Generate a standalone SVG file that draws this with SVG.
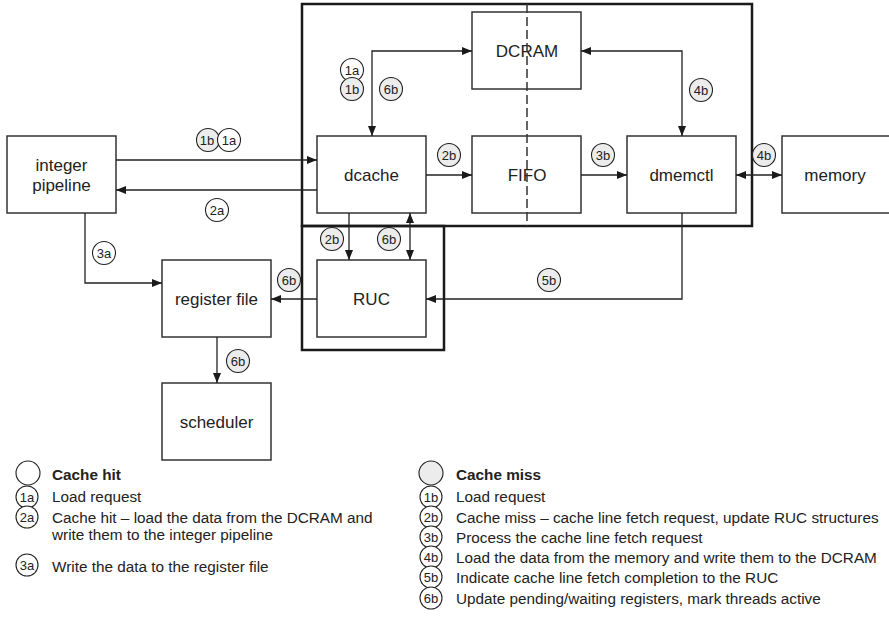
<svg xmlns="http://www.w3.org/2000/svg" width="889" height="625" viewBox="0 0 889 625">
<defs>
<marker id="ah" viewBox="0 0 10 8" refX="10" refY="4" markerWidth="10" markerHeight="8" markerUnits="userSpaceOnUse" orient="auto-start-reverse">
<path d="M0,0 L10,4 L0,8 z" fill="#1a1a1a"/>
</marker>
<style>
.box{fill:#fff;stroke:#333;stroke-width:1.5}
.cont{fill:none;stroke:#1a1a1a;stroke-width:2.5}
.lbl{font-family:"Liberation Sans",Arial,sans-serif;font-size:17px;fill:#222;text-anchor:middle}
.con{fill:none;stroke:#222;stroke-width:1.3}
.cw{fill:#fff;stroke:#222;stroke-width:1.1}
.cg{fill:#ececec;stroke:#222;stroke-width:1.1}
.ct{font-family:"Liberation Sans",Arial,sans-serif;font-size:13px;fill:#222;text-anchor:middle}
.lt{font-family:"Liberation Sans",Arial,sans-serif;font-size:15.3px;fill:#222}
.lb{font-family:"Liberation Sans",Arial,sans-serif;font-size:15.3px;fill:#222;font-weight:bold}
.dash{stroke:#333;stroke-width:1.5;stroke-dasharray:9,4;fill:none}
</style>
</defs>
<rect width="889" height="625" fill="#fff"/>

<g id="containers">
<rect class="cont" x="302" y="4" width="450" height="222"/>
<rect class="cont" x="302" y="226" width="142" height="124"/>
</g>

<g id="dcram"><rect class="box" x="472" y="12" width="109" height="77"/><text class="lbl" x="527" y="56.5">DCRAM</text></g>
<g id="dcache"><rect class="box" x="317" y="136" width="109" height="77"/><text class="lbl" x="371.5" y="180.5">dcache</text></g>
<g id="fifo"><rect class="box" x="472" y="136" width="109" height="77"/><text class="lbl" x="527" y="180.5">FIFO</text></g>
<g id="dmemctl"><rect class="box" x="627" y="136" width="109" height="77"/><text class="lbl" x="681.5" y="180.5">dmemctl</text></g>
<g id="memory"><rect class="box" x="782" y="136" width="112" height="77"/><text class="lbl" x="835" y="180.5">memory</text></g>
<g id="integer-pipeline"><rect class="box" x="7" y="136" width="109" height="77"/><text class="lbl" x="61.5" y="170.5">integer</text><text class="lbl" x="61.5" y="191">pipeline</text></g>
<g id="register-file"><rect class="box" x="162" y="260" width="109" height="77"/><text class="lbl" x="216.5" y="304.5">register file</text></g>
<g id="ruc"><rect class="box" x="317" y="260" width="109" height="77"/><text class="lbl" x="371.5" y="304.5">RUC</text></g>
<g id="scheduler"><rect class="box" x="162" y="383" width="109" height="77"/><text class="lbl" x="216.5" y="427.5">scheduler</text></g>

<line class="dash" x1="527" y1="4" x2="527" y2="226"/>

<g id="connectors">
<path class="con" d="M372,136 V51 H472" marker-start="url(#ah)" marker-end="url(#ah)"/>
<path class="con" d="M581,51 H682 V136" marker-start="url(#ah)" marker-end="url(#ah)"/>
<path class="con" d="M116,160 H317" marker-end="url(#ah)"/>
<path class="con" d="M317,190 H116" marker-end="url(#ah)"/>
<path class="con" d="M426,175 H472" marker-end="url(#ah)"/>
<path class="con" d="M581,175 H627" marker-end="url(#ah)"/>
<path class="con" d="M736,175 H782" marker-start="url(#ah)" marker-end="url(#ah)"/>
<path class="con" d="M349,213 V260" marker-end="url(#ah)"/>
<path class="con" d="M410,213 V260" marker-start="url(#ah)" marker-end="url(#ah)"/>
<path class="con" d="M317,299 H271" marker-end="url(#ah)"/>
<path class="con" d="M682,213 V299 H426" marker-end="url(#ah)"/>
<path class="con" d="M85,213 V283 H162" marker-end="url(#ah)"/>
<path class="con" d="M217,337 V383" marker-end="url(#ah)"/>
</g>

<g id="step-labels">
<circle class="cw" cx="352" cy="70" r="11.5"/><text class="ct" x="352" y="74.5">1a</text>
<circle class="cg" cx="352" cy="89" r="11.5"/><text class="ct" x="352" y="93.5">1b</text>
<circle class="cg" cx="391" cy="89" r="11.5"/><text class="ct" x="391" y="93.5">6b</text>
<circle class="cg" cx="701" cy="90" r="11.5"/><text class="ct" x="701" y="94.5">4b</text>
<circle class="cg" cx="449" cy="155" r="11.5"/><text class="ct" x="449" y="159.5">2b</text>
<circle class="cg" cx="603" cy="155" r="11.5"/><text class="ct" x="603" y="159.5">3b</text>
<circle class="cg" cx="764" cy="155" r="11.5"/><text class="ct" x="764" y="159.5">4b</text>
<circle class="cg" cx="208" cy="140" r="11.5"/><text class="ct" x="207" y="144.5">1b</text>
<circle class="cw" cx="229" cy="140" r="11.5"/><text class="ct" x="229" y="144.5">1a</text>
<circle class="cw" cx="217" cy="210" r="11.5"/><text class="ct" x="217" y="214.5">2a</text>
<circle class="cw" cx="104" cy="253" r="11.5"/><text class="ct" x="104" y="257.5">3a</text>
<circle class="cg" cx="289" cy="280" r="11.5"/><text class="ct" x="289" y="284.5">6b</text>
<circle class="cg" cx="332" cy="239" r="11.5"/><text class="ct" x="332" y="243.5">2b</text>
<circle class="cg" cx="389" cy="239" r="11.5"/><text class="ct" x="389" y="243.5">6b</text>
<circle class="cg" cx="238" cy="361" r="11.5"/><text class="ct" x="238" y="365.5">6b</text>
<circle class="cg" cx="549" cy="280" r="11.5"/><text class="ct" x="549" y="284.5">5b</text>
</g>

<g id="legend-hit">
<circle class="cw" cx="28" cy="473" r="12"/>
<text class="lb" x="52" y="480">Cache hit</text>
<circle class="cw" cx="27" cy="497" r="11"/><text class="ct" x="27" y="501.5">1a</text>
<text class="lt" x="52" y="502">Load request</text>
<circle class="cw" cx="27" cy="517" r="11"/><text class="ct" x="27" y="521.5">2a</text>
<text class="lt" x="52" y="523">Cache hit – load the data from the DCRAM and</text>
<text class="lt" x="52" y="540">write them to the integer pipeline</text>
<circle class="cw" cx="27" cy="565" r="11"/><text class="ct" x="27" y="569.5">3a</text>
<text class="lt" x="52" y="572">Write the data to the register file</text>
</g>

<g id="legend-miss">
<circle class="cg" cx="431" cy="473" r="12"/>
<text class="lb" x="456" y="480">Cache miss</text>
<circle class="cw" cx="431" cy="497" r="11"/><text class="ct" x="431" y="501.5">1b</text>
<text class="lt" x="456" y="502">Load request</text>
<circle class="cw" cx="431" cy="517" r="11"/><text class="ct" x="431" y="521.5">2b</text>
<text class="lt" x="456" y="523">Cache miss – cache line fetch request, update RUC structures</text>
<circle class="cw" cx="431" cy="537" r="11"/><text class="ct" x="431" y="541.5">3b</text>
<text class="lt" x="456" y="543">Process the cache line fetch request</text>
<circle class="cw" cx="431" cy="557" r="11"/><text class="ct" x="431" y="561.5">4b</text>
<text class="lt" x="456" y="563">Load the data from the memory and write them to the DCRAM</text>
<circle class="cw" cx="431" cy="577" r="11"/><text class="ct" x="431" y="581.5">5b</text>
<text class="lt" x="456" y="583">Indicate cache line fetch completion to the RUC</text>
<circle class="cw" cx="431" cy="598" r="11"/><text class="ct" x="431" y="602.5">6b</text>
<text class="lt" x="456" y="604">Update pending/waiting registers, mark threads active</text>
</g>
</svg>
